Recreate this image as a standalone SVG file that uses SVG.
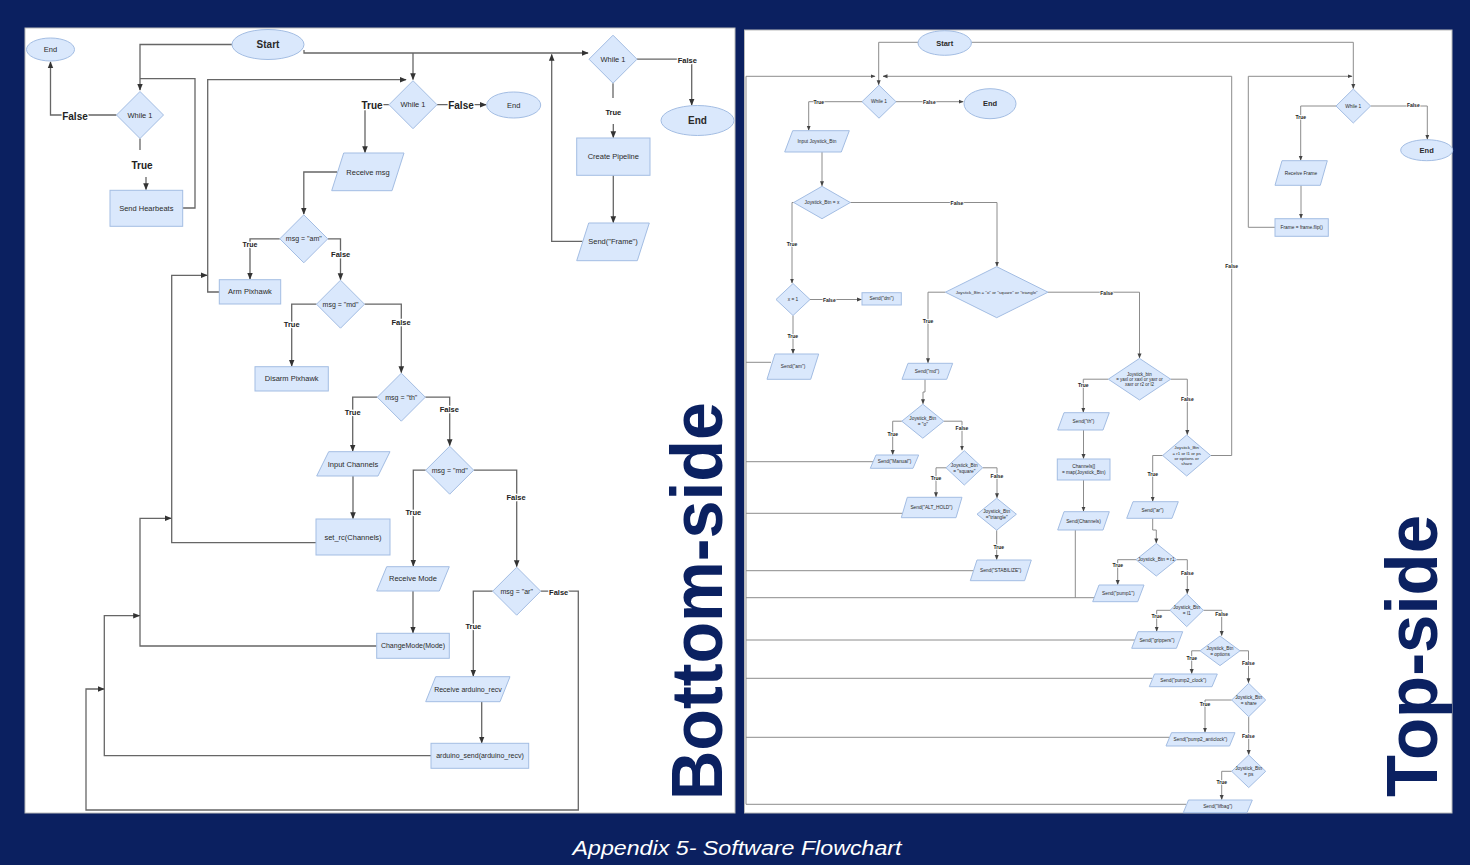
<svg xmlns="http://www.w3.org/2000/svg" width="1470" height="865" viewBox="0 0 1470 865">
<style>
.n{fill:#dae8fc;stroke:#a3bde3;stroke-width:1}
.c{fill:none;stroke:#666;stroke-width:1.3}
.cr{fill:none;stroke:#8c8c8c;stroke-width:1}
.t{font-family:"Liberation Sans",Arial,sans-serif;fill:#2a2a2a;text-anchor:middle;dominant-baseline:central}
.tl{font-size:7.5px}
.tr{font-size:4.8px}
.lb{font-family:"Liberation Sans",Arial,sans-serif;font-weight:bold;fill:#222;text-anchor:middle;dominant-baseline:central;paint-order:stroke;stroke:#fff;stroke-width:2.5px;stroke-linejoin:round}
.ls{stroke-width:1.4px}
.big{font-family:"Liberation Sans",Arial,sans-serif;font-weight:bold;fill:#0b2161}
</style>
<defs>
<marker id="ah" viewBox="0 0 10 10" refX="9" refY="5" markerWidth="7" markerHeight="7" markerUnits="userSpaceOnUse" orient="auto"><path d="M0,1 L10,5 L0,9 z" fill="#333"/></marker>
<marker id="as" viewBox="0 0 10 10" refX="9" refY="5" markerWidth="5" markerHeight="5" markerUnits="userSpaceOnUse" orient="auto"><path d="M0,1 L10,5 L0,9 z" fill="#444"/></marker>
</defs>
<rect x="0" y="0" width="1470" height="865" fill="#0b2060"/>
<rect x="25" y="28" width="710" height="785" fill="#fff" stroke="#bbb"/>
<rect x="744.5" y="30" width="707.5" height="783" fill="#fff" stroke="#bbb"/>

<!-- LEFT PANEL CONNECTORS -->
<g id="left-connectors">
<path class="c" d="M232,44.5 H140 V90" marker-end="url(#ah)"/>
<path class="c" d="M116.5,115 H50.5 V62" marker-end="url(#ah)"/>
<path class="c" d="M140,138.5 V150"/>
<path class="c" d="M146,177 V189.5" marker-end="url(#ah)"/>
<path class="c" d="M182.7,208 H195 V78.7 H140"/>
<path class="c" d="M304,50 V53 H588" marker-end="url(#ah)"/>
<path class="c" d="M413,53 V79.5" marker-end="url(#ah)"/>
<path class="c" d="M219.3,292 H207.7 V79.7 H406" marker-end="url(#ah)"/>
<path class="c" d="M389,104.7 H365 V152.5" marker-end="url(#ah)"/>
<path class="c" d="M437,104.7 H486" marker-end="url(#ah)"/>
<path class="c" d="M337,172 H303.8 V214" marker-end="url(#ah)"/>
<path class="c" d="M279.8,238.8 H250 V279" marker-end="url(#ah)"/>
<path class="c" d="M327.8,238.8 H340.5 V279.5" marker-end="url(#ah)"/>
<path class="c" d="M316.5,304.2 H291.7 V366" marker-end="url(#ah)"/>
<path class="c" d="M364.5,304.2 H401.3 V372.5" marker-end="url(#ah)"/>
<path class="c" d="M377.3,397.2 H352.7 V451" marker-end="url(#ah)"/>
<path class="c" d="M425.3,397.2 H449.7 V445.5" marker-end="url(#ah)"/>
<path class="c" d="M353,476 V518.5" marker-end="url(#ah)"/>
<path class="c" d="M425.7,470.2 H413.3 V566" marker-end="url(#ah)"/>
<path class="c" d="M473.7,470.2 H516.7 V566.5" marker-end="url(#ah)"/>
<path class="c" d="M413,591 V632.8" marker-end="url(#ah)"/>
<path class="c" d="M492.7,591.2 H473.3 V676" marker-end="url(#ah)"/>
<path class="c" d="M540.7,591.2 H578.3 V810 H86 V689 H104" marker-end="url(#ah)"/>
<path class="c" d="M481.7,701.7 V742.8" marker-end="url(#ah)"/>
<path class="c" d="M316,542.7 H171.7 V275.3 H207" marker-end="url(#ah)"/>
<path class="c" d="M376.7,646 H140 V518.3 H171" marker-end="url(#ah)"/>
<path class="c" d="M431,755.7 H104.3 V615.7 H139.5" marker-end="url(#ah)"/>
<path class="c" d="M613,83.2 V98"/>
<path class="c" d="M613.3,124 V137.5" marker-end="url(#ah)"/>
<path class="c" d="M637,59.2 H691.7 V105" marker-end="url(#ah)"/>
<path class="c" d="M613.3,175.3 V222.5" marker-end="url(#ah)"/>
<path class="c" d="M582.7,241.3 H551.7 V54.5" marker-end="url(#ah)"/>
<text class="lb" x="75" y="116" font-size="10">False</text>
<text class="lb" x="142" y="165" font-size="10">True</text>
<text class="lb" x="372" y="105" font-size="10">True</text>
<text class="lb" x="461" y="105" font-size="10">False</text>
<text class="lb" x="250" y="244.5" font-size="7">True</text>
<text class="lb" x="340.7" y="254" font-size="7.5">False</text>
<text class="lb" x="291.7" y="324" font-size="7.5">True</text>
<text class="lb" x="401" y="322.3" font-size="7.5">False</text>
<text class="lb" x="352.7" y="412.7" font-size="7.5">True</text>
<text class="lb" x="449.3" y="409.3" font-size="7.5">False</text>
<text class="lb" x="413.3" y="512.3" font-size="7.5">True</text>
<text class="lb" x="516" y="497.7" font-size="7.5">False</text>
<text class="lb" x="473.3" y="626" font-size="7.5">True</text>
<text class="lb" x="558.7" y="592" font-size="7.5">False</text>
<text class="lb" x="613.3" y="112" font-size="7.5">True</text>
<text class="lb" x="687.3" y="60" font-size="7.5">False</text>
</g>

<!-- LEFT PANEL NODES -->
<g id="L_end1"><ellipse class="n" cx="50.5" cy="49.5" rx="24" ry="11.5"/><text class="t" x="50.5" y="49.5" font-size="7.5">End</text></g>
<g id="L_start"><ellipse class="n" cx="268" cy="44.5" rx="36" ry="15"/><text class="t" x="268" y="44.5" font-size="10" font-weight="bold">Start</text></g>
<g id="L_while_a"><polygon class="n" points="140,91.5 163.5,115 140,138.5 116.5,115"/><text class="t tl" x="140" y="115">While 1</text></g>
<g id="L_hb"><rect class="n" x="110" y="190.3" width="72.7" height="36"/><text class="t tl" x="146.3" y="208.3">Send Hearbeats</text></g>
<g id="L_while_b"><polygon class="n" points="413,80.7 437,104.7 413,128.7 389,104.7"/><text class="t tl" x="413" y="104.7">While 1</text></g>
<g id="L_end2"><ellipse class="n" cx="513.7" cy="105" rx="27" ry="13"/><text class="t" x="513.7" y="105" font-size="7.5">End</text></g>
<g id="L_recv"><polygon class="n" points="343.7,153 404,153 392,190.7 331.7,190.7"/><text class="t tl" x="368" y="172">Receive msg</text></g>
<g id="L_am"><polygon class="n" points="303.8,214.8 327.8,238.8 303.8,262.8 279.8,238.8"/><text class="t" x="303.8" y="238.8" font-size="7">msg = "am"</text></g>
<g id="L_arm"><rect class="n" x="219.3" y="279.7" width="61.4" height="24.3"/><text class="t tl" x="250" y="291.8">Arm Pixhawk</text></g>
<g id="L_md1"><polygon class="n" points="340.5,280.2 364.5,304.2 340.5,328.2 316.5,304.2"/><text class="t" x="340.5" y="304.2" font-size="7">msg = "md"</text></g>
<g id="L_disarm"><rect class="n" x="255" y="366.7" width="73.3" height="24.3"/><text class="t tl" x="291.7" y="378.8">Disarm Pixhawk</text></g>
<g id="L_th"><polygon class="n" points="401.3,373.2 425.3,397.2 401.3,421.2 377.3,397.2"/><text class="t" x="401.3" y="397.2" font-size="7">msg = "th"</text></g>
<g id="L_input"><polygon class="n" points="328.7,451.7 390,451.7 378,476 316.7,476"/><text class="t tl" x="353" y="464">Input Channels</text></g>
<g id="L_setrc"><rect class="n" x="316" y="519" width="74" height="36"/><text class="t tl" x="353" y="537">set_rc(Channels)</text></g>
<g id="L_md2"><polygon class="n" points="449.7,446.2 473.7,470.2 449.7,494.2 425.7,470.2"/><text class="t" x="449.7" y="470.2" font-size="7">msg = "md"</text></g>
<g id="L_rmode"><polygon class="n" points="386.7,566.7 449.3,566.7 439.3,591 376.7,591"/><text class="t tl" x="413" y="578.8">Receive Mode</text></g>
<g id="L_cmode"><rect class="n" x="376.7" y="633.3" width="72.6" height="25"/><text class="t" x="413" y="645.8" font-size="7">ChangeMode(Mode)</text></g>
<g id="L_ar"><polygon class="n" points="516.7,567.2 540.7,591.2 516.7,615.2 492.7,591.2"/><text class="t" x="516.7" y="591.2" font-size="7">msg = "ar"</text></g>
<g id="L_rard"><polygon class="n" points="435.7,676.7 510,676.7 500,701.7 425.7,701.7"/><text class="t" x="468" y="689" font-size="7">Receive arduino_recv</text></g>
<g id="L_asend"><rect class="n" x="431" y="743.3" width="97.7" height="25"/><text class="t" x="480" y="755.8" font-size="7">arduino_send(arduino_recv)</text></g>
<g id="L_while_c"><polygon class="n" points="613,35.2 637,59.2 613,83.2 589,59.2"/><text class="t tl" x="613" y="59.2">While 1</text></g>
<g id="L_end3"><ellipse class="n" cx="697.5" cy="120.5" rx="36.5" ry="15"/><text class="t" x="697.5" y="120.5" font-size="10" font-weight="bold">End</text></g>
<g id="L_pipe"><rect class="n" x="576.7" y="138" width="73.3" height="37.3"/><text class="t tl" x="613.3" y="156.7">Create Pipeline</text></g>
<g id="L_frame"><polygon class="n" points="588.7,223 649.3,223 637.3,260.7 576.7,260.7"/><text class="t tl" x="613" y="241.8">Send("Frame")</text></g>

<!-- RIGHT PANEL CONNECTORS -->
<g id="right-connectors">
<path class="cr" d="M918,42.3 H878.7 V84.7" marker-end="url(#as)"/>
<path class="cr" d="M971.3,42.3 H1353.3 V88.5" marker-end="url(#as)"/>
<path class="cr" d="M746,804.3 V76.3 H875" marker-end="url(#as)"/>
<path class="cr" d="M1210.7,455.5 H1231.7 V76.3 H883" marker-end="url(#as)"/>
<path class="cr" d="M862,101.7 H808.7 V130.2" marker-end="url(#as)"/>
<path class="cr" d="M896,101.7 H963.2" marker-end="url(#as)"/>
<path class="cr" d="M822,152 V185.8" marker-end="url(#as)"/>
<path class="cr" d="M850.3,202.5 H997 V266.2" marker-end="url(#as)"/>
<path class="cr" d="M793.7,202.5 H792 V283" marker-end="url(#as)"/>
<path class="cr" d="M810,299.5 H861.5" marker-end="url(#as)"/>
<path class="cr" d="M793,315.5 V353.5" marker-end="url(#as)"/>
<path class="cr" d="M771,362.3 H746"/>
<path class="cr" d="M945.4,292.2 H928 V362.8" marker-end="url(#as)"/>
<path class="cr" d="M1048,292.2 H1139.5 V357.9" marker-end="url(#as)"/>
<path class="cr" d="M925,379.3 V392 H923 V403.7" marker-end="url(#as)"/>
<path class="cr" d="M901.8,421.2 H892.7 V454.5" marker-end="url(#as)"/>
<path class="cr" d="M943.8,421.2 H962 V450.1" marker-end="url(#as)"/>
<path class="cr" d="M875,461.7 H746"/>
<path class="cr" d="M946,467.8 H936 V496.8" marker-end="url(#as)"/>
<path class="cr" d="M982.6,467.8 H997 V497.7" marker-end="url(#as)"/>
<path class="cr" d="M903,513.3 H746"/>
<path class="cr" d="M996.7,530.2 V559.5" marker-end="url(#as)"/>
<path class="cr" d="M975,570.7 H746"/>
<path class="cr" d="M1108.3,379.2 H1083.3 V412.2" marker-end="url(#as)"/>
<path class="cr" d="M1170.7,379.2 H1187.3 V434.5" marker-end="url(#as)"/>
<path class="cr" d="M1083.5,430 V458.5" marker-end="url(#as)"/>
<path class="cr" d="M1083.5,480 V511.2" marker-end="url(#as)"/>
<path class="cr" d="M1075.3,530 V597.7"/>
<path class="cr" d="M746,597.7 H1095"/>
<path class="cr" d="M1162.7,455.5 H1152.7 V501.2" marker-end="url(#as)"/>
<path class="cr" d="M1152.7,518.3 V530 H1156.3 V542.9" marker-end="url(#as)"/>
<path class="cr" d="M1136,559.7 H1117.7 V584.5" marker-end="url(#as)"/>
<path class="cr" d="M1176.6,559.7 H1187.3 V593.5" marker-end="url(#as)"/>
<path class="cr" d="M1170,610.3 H1156.7 V631.2" marker-end="url(#as)"/>
<path class="cr" d="M1203.4,610.3 H1221.7 V635.5" marker-end="url(#as)"/>
<path class="cr" d="M1137,640 H746"/>
<path class="cr" d="M1200,650.8 H1191.7 V673.5" marker-end="url(#as)"/>
<path class="cr" d="M1240,650.8 H1248.5 V682.8" marker-end="url(#as)"/>
<path class="cr" d="M1152,678.3 H746"/>
<path class="cr" d="M1231.7,700 H1205 V732.2" marker-end="url(#as)"/>
<path class="cr" d="M1248.7,716.7 V754.5" marker-end="url(#as)"/>
<path class="cr" d="M1169,737.3 H746"/>
<path class="cr" d="M1231.7,771.3 H1221.7 V799.5" marker-end="url(#as)"/>
<path class="cr" d="M1186,804.3 H746"/>
<path class="cr" d="M1336,106 H1300.7 V160.2" marker-end="url(#as)"/>
<path class="cr" d="M1370.6,106 H1427.3 V139.2" marker-end="url(#as)"/>
<path class="cr" d="M1301,185.3 V218.2" marker-end="url(#as)"/>
<path class="cr" d="M1275,227.3 H1248.3 V76.3 H1352" marker-end="url(#as)"/>
<text class="lb ls" x="818.7" y="102" font-size="5">True</text>
<text class="lb ls" x="929.3" y="102" font-size="5">False</text>
<text class="lb ls" x="957" y="203" font-size="5">False</text>
<text class="lb ls" x="792" y="243.7" font-size="5">True</text>
<text class="lb ls" x="829.3" y="300" font-size="5">False</text>
<text class="lb ls" x="792.7" y="335.7" font-size="5">True</text>
<text class="lb ls" x="928" y="320.7" font-size="5">True</text>
<text class="lb ls" x="1106.7" y="292.7" font-size="5">False</text>
<text class="lb ls" x="892.7" y="434" font-size="5">True</text>
<text class="lb ls" x="962" y="428.3" font-size="5">False</text>
<text class="lb ls" x="936" y="478.3" font-size="5">True</text>
<text class="lb ls" x="997" y="476" font-size="5">False</text>
<text class="lb ls" x="998.7" y="546.7" font-size="5">True</text>
<text class="lb ls" x="1083.3" y="385" font-size="5">True</text>
<text class="lb ls" x="1187.3" y="399.3" font-size="5">False</text>
<text class="lb ls" x="1231.7" y="266" font-size="5">False</text>
<text class="lb ls" x="1152.7" y="474" font-size="5">True</text>
<text class="lb ls" x="1117.7" y="565" font-size="5">True</text>
<text class="lb ls" x="1187.3" y="572.7" font-size="5">False</text>
<text class="lb ls" x="1156.7" y="615.7" font-size="5">True</text>
<text class="lb ls" x="1221.7" y="614" font-size="5">False</text>
<text class="lb ls" x="1191.7" y="658.3" font-size="5">True</text>
<text class="lb ls" x="1248.3" y="662.7" font-size="5">False</text>
<text class="lb ls" x="1205" y="704.3" font-size="5">True</text>
<text class="lb ls" x="1248.3" y="736" font-size="5">False</text>
<text class="lb ls" x="1221.7" y="781.7" font-size="5">True</text>
<text class="lb ls" x="1300.7" y="117" font-size="5">True</text>
<text class="lb ls" x="1413.3" y="105.3" font-size="5">False</text>
</g>

<!-- RIGHT PANEL NODES -->
<g id="R_start"><ellipse class="n" cx="944.7" cy="43" rx="26.7" ry="12.3"/><text class="t" x="944.7" y="43" font-size="7.5" font-weight="bold">Start</text></g>
<g id="R_while"><polygon class="n" points="879,85.2 896,101.7 879,118.2 862,101.7"/><text class="t tr" x="879" y="101.7">While 1</text></g>
<g id="R_end"><ellipse class="n" cx="990" cy="103.7" rx="26" ry="15"/><text class="t" x="990" y="103.7" font-size="7.5" font-weight="bold">End</text></g>
<g id="R_input"><polygon class="n" points="792.7,130.7 849.3,130.7 841.3,152 784.7,152"/><text class="t tr" x="817" y="141.3">Input Joystick_Btn</text></g>
<g id="R_x"><polygon class="n" points="822,186.3 850.3,202.5 822,218.7 793.7,202.5"/><text class="t tr" x="822" y="202.5">Joystick_Btn = x</text></g>
<g id="R_x1"><polygon class="n" points="793,283.5 810,299.5 793,315.5 776,299.5"/><text class="t tr" x="793" y="299.5">x = 1</text></g>
<g id="R_dm"><rect class="n" x="862" y="292.7" width="39.3" height="12.3"/><text class="t tr" x="881.7" y="298.8">Send("dm")</text></g>
<g id="R_am"><polygon class="n" points="775,354 818.7,354 810.7,379.3 767,379.3"/><text class="t tr" x="793" y="366.7">Send("am")</text></g>
<g id="R_osq"><polygon class="n" points="996.7,266.7 1048,292.2 996.7,317.7 945.4,292.2"/><text class="t" x="996.7" y="292.2" font-size="4.4">Joystick_Btn = "o" or "square" or "triangle"</text></g>
<g id="R_md"><polygon class="n" points="908,363.3 952.7,363.3 946.7,379.3 902,379.3"/><text class="t tr" x="927" y="371.3">Send("md")</text></g>
<g id="R_o"><polygon class="n" points="922.8,404.2 943.8,421.2 922.8,438.2 901.8,421.2"/><text class="t tr" x="922.8" y="418.5">Joystick_Btn<tspan x="922.8" dy="5.5">= "o"</tspan></text></g>
<g id="R_manual"><polygon class="n" points="876,455 918.7,455 913,468.3 870.3,468.3"/><text class="t tr" x="894.5" y="461.7">Send("Manual")</text></g>
<g id="R_sq"><polygon class="n" points="964.3,450.6 982.6,467.8 964.3,485 946,467.8"/><text class="t tr" x="964.3" y="465">Joystick_Btn<tspan x="964.3" dy="5.5">= "square"</tspan></text></g>
<g id="R_alt"><polygon class="n" points="907.3,497.3 962,497.3 956,517.7 901.3,517.7"/><text class="t tr" x="931.5" y="507.5">Send("ALT_HOLD")</text></g>
<g id="R_tri"><polygon class="n" points="996.7,498.2 1016.4,514.2 996.7,530.2 977,514.2"/><text class="t tr" x="996.7" y="511.5">Joystick_Btn<tspan x="996.7" dy="5.5">="triangle"</tspan></text></g>
<g id="R_stab"><polygon class="n" points="977,560 1031.3,560 1024.6,580.7 970.3,580.7"/><text class="t tr" x="1000.7" y="570.3">Send("STABILIZE")</text></g>
<g id="R_yax"><polygon class="n" points="1139.5,358.4 1170.7,379.2 1139.5,400 1108.3,379.2"/><text class="t" x="1139.5" y="374" font-size="4.5">Joystick_btn<tspan x="1139.5" dy="5.2">= yaxl or xaxl or yaxr or</tspan><tspan x="1139.5" dy="5.2">xaxr or r2 or l2</tspan></text></g>
<g id="R_th"><polygon class="n" points="1064,412.7 1109.3,412.7 1103,430 1057.7,430"/><text class="t tr" x="1083.5" y="421.3">Send("th")</text></g>
<g id="R_ch"><rect class="n" x="1057.3" y="459" width="52.7" height="21"/><text class="t tr" x="1083.7" y="466.8">Channels[]<tspan x="1083.7" dy="5.5">= map(Joystick_Btn)</tspan></text></g>
<g id="R_sch"><polygon class="n" points="1064,511.7 1109.3,511.7 1103,530 1057.7,530"/><text class="t tr" x="1083.5" y="521">Send(Channels)</text></g>
<g id="R_r1l1"><polygon class="n" points="1186.7,435 1210.7,455.5 1186.7,476 1162.7,455.5"/><text class="t" x="1186.7" y="447.5" font-size="4.4">Joystick_Btn<tspan x="1186.7" dy="5.2">= r1 or l1 or ps</tspan><tspan x="1186.7" dy="5.2">or options or</tspan><tspan x="1186.7" dy="5.2">share</tspan></text></g>
<g id="R_ar"><polygon class="n" points="1133,501.7 1178.3,501.7 1172,518.3 1126.7,518.3"/><text class="t tr" x="1152.5" y="510">Send("ar")</text></g>
<g id="R_r1"><polygon class="n" points="1156.3,543.4 1176.6,559.7 1156.3,576 1136,559.7"/><text class="t tr" x="1156.3" y="559.7">Joystick_Btn = r1</text></g>
<g id="R_pump1"><polygon class="n" points="1099,585 1144,585 1137.7,601.7 1092.7,601.7"/><text class="t tr" x="1118.3" y="593.3">Send("pump1")</text></g>
<g id="R_l1"><polygon class="n" points="1186.7,594 1203.4,610.3 1186.7,626.6 1170,610.3"/><text class="t tr" x="1186.7" y="607.6">Joystick_Btn<tspan x="1186.7" dy="5.5">= l1</tspan></text></g>
<g id="R_grip"><polygon class="n" points="1138,631.7 1182.7,631.7 1176.4,648.3 1131.7,648.3"/><text class="t tr" x="1157" y="640">Send("grippers")</text></g>
<g id="R_opt"><polygon class="n" points="1220,636 1240,650.8 1220,665.6 1200,650.8"/><text class="t tr" x="1220" y="648">Joystick_Btn<tspan x="1220" dy="5.5">= options</tspan></text></g>
<g id="R_pc"><polygon class="n" points="1154.5,674 1217.3,674 1212,686.7 1149.3,686.7"/><text class="t tr" x="1183.3" y="680.3">Send("pump2_clock")</text></g>
<g id="R_share"><polygon class="n" points="1248.7,683.3 1265.7,700 1248.7,716.7 1231.7,700"/><text class="t tr" x="1248.7" y="697.3">Joystick_Btn<tspan x="1248.7" dy="5.5">= share</tspan></text></g>
<g id="R_pa"><polygon class="n" points="1171.5,732.7 1235,732.7 1229.5,746 1166,746"/><text class="t tr" x="1200.5" y="739.3">Send("pump2_anticlock")</text></g>
<g id="R_ps"><polygon class="n" points="1248.7,755 1265.7,771.3 1248.7,787.6 1231.7,771.3"/><text class="t tr" x="1248.7" y="768.6">Joystick_Btn<tspan x="1248.7" dy="5.5">= ps</tspan></text></g>
<g id="R_lif"><polygon class="n" points="1188.5,800 1252.3,800 1247,812.7 1183.3,812.7"/><text class="t tr" x="1217.8" y="806.3">Send("lifbag")</text></g>
<g id="R_while2"><polygon class="n" points="1353.3,89 1370.6,106 1353.3,123 1336,106"/><text class="t tr" x="1353.3" y="106">While 1</text></g>
<g id="R_end2"><ellipse class="n" cx="1426.7" cy="150.2" rx="26" ry="10.5"/><text class="t" x="1426.7" y="150.2" font-size="7.5" font-weight="bold">End</text></g>
<g id="R_rf"><polygon class="n" points="1282,160.7 1327.3,160.7 1320.3,185.3 1275,185.3"/><text class="t tr" x="1301" y="173">Receive Frame</text></g>
<g id="R_flip"><rect class="n" x="1275" y="218.7" width="53.3" height="17.6"/><text class="t tr" x="1301.7" y="227.5">Frame = frame.flip()</text></g>

<!-- TITLES -->
<text class="big" transform="translate(722,800) rotate(-90)" font-size="72" textLength="398" lengthAdjust="spacingAndGlyphs">Bottom-side</text>
<text class="big" transform="translate(1437,797) rotate(-90)" font-size="72" textLength="282" lengthAdjust="spacingAndGlyphs">Top-side</text>
<text x="737" y="855" font-family="'Liberation Sans',Arial,sans-serif" font-style="italic" font-size="20" fill="#fff" text-anchor="middle" textLength="329" lengthAdjust="spacingAndGlyphs">Appendix 5- Software Flowchart</text>
</svg>
